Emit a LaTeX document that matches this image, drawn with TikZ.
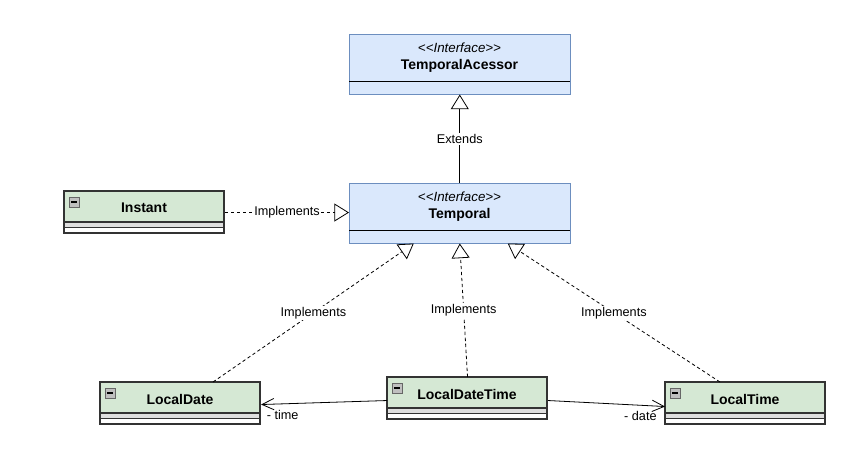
\documentclass[tikz,border=0pt]{standalone}
\usepackage{fontspec}
\setmainfont{Liberation Sans}
\usetikzlibrary{arrows.meta,calc,positioning}

\definecolor{ifill}{HTML}{DAE8FC}
\definecolor{iline}{HTML}{6C8EBF}
\definecolor{cfill}{HTML}{D5E8D4}
\definecolor{cline}{HTML}{333333}

\def\px{0.75pt}

\tikzset{
  iface/.style={draw=iline, fill=ifill, rectangle, inner sep=0pt, anchor=north west,
                minimum width=221*\px, minimum height=60*\px},
  cbox/.style={draw=cline, thick, fill=white, rectangle, inner sep=0pt, anchor=north west,
               minimum width=160*\px, minimum height=42*\px},
  cname/.style={font=\fontsize{10.5}{12}\selectfont\bfseries},
  stereo/.style={font=\fontsize{10}{12}\selectfont\itshape},
  lbl/.style={font=\fontsize{9.5}{11}\selectfont, fill=white, inner sep=1pt},
  rel/.style={draw=black, line width=0.6pt},
  real/.style={rel, dashed, dash pattern=on 2.5pt off 2pt, -{Triangle[open,length=11pt,width=13.5pt]}},
  ext/.style={rel, -{Triangle[open,length=11pt,width=13.5pt]}},
  assoc/.style={rel, -{Straight Barb[length=9pt,width=8.5pt]}}
}

\begin{document}
\begin{tikzpicture}[x=\px, y=-\px]
  \useasboundingbox (0,0) rectangle (864,473);

  %interfaces
  \foreach \x/\y/\name/\txt in {349/34/acc/TemporalAcessor, 349/183/tmp/Temporal}{
    \node[iface] (\name) at (\x,\y) {};
    \draw[black] (\x,\y+47) -- (\x+221,\y+47);
    \node[stereo] at (\x+110.5,\y+14) {{<}{<}Interface{>}{>}};
    \node[cname] at (\x+110.5,\y+32) {\txt};
  }

  %classes
  \foreach \x/\y/\name/\txt in {64/191/inst/Instant, 100/382/ld/LocalDate, 387/377/ldt/LocalDateTime, 665/382/lt/LocalTime}{
    \node[cbox] (\name) at (\x,\y) {};
    \draw[cline, thick, fill=cfill] (\x,\y) rectangle (\x+160,\y+31);
    \draw[cline, fill=gray!25] (\x,\y+31) rectangle (\x+160,\y+36);
    \draw[cline, thick] (\x,\y) rectangle (\x+160,\y+42);
    \draw[gray!80!black, fill=gray!50] (\x+5,\y+6) rectangle (\x+15,\y+16);
    \draw[black, thick] (\x+7,\y+11) -- (\x+13,\y+11);
    \node[cname] at (\x+80,\y+17) {\txt};
  }

  %points on Temporal
  \coordinate (t1) at ($(tmp.south)+(-46,0)$);
  \coordinate (t3) at ($(tmp.south)+(48,0)$);
  \coordinate (ldtop) at ($(ld.north west)+(113,0)$);
  \coordinate (lttop) at ($(lt.north west)+(55,0)$);

  %relations
  \draw[ext] (tmp.north) -- node[lbl] {Extends} (acc.south);
  \draw[real] (inst.east) -- node[lbl] {Implements} (tmp.west |- inst.east);
  \draw[real] (ldtop) -- node[lbl] {Implements} (t1);
  \draw[real] (ldt.north) -- node[lbl] {Implements} (tmp.south);
  \draw[real] (lttop) -- node[lbl] {Implements} (t3);

  \draw[assoc] ($(ldt.west)+(0,2)$) -- ($(ld.east)+(0,1)$)
      node[pos=1, below right, lbl, fill=none, xshift=3pt, yshift=-3pt] {- time};
  \draw[assoc] ($(ldt.east)+(0,2)$) -- ($(lt.west)+(0,3)$)
      node[pos=1, below left, lbl, fill=none, xshift=-5pt, yshift=-2pt] {- date};

\end{tikzpicture}
\end{document}
